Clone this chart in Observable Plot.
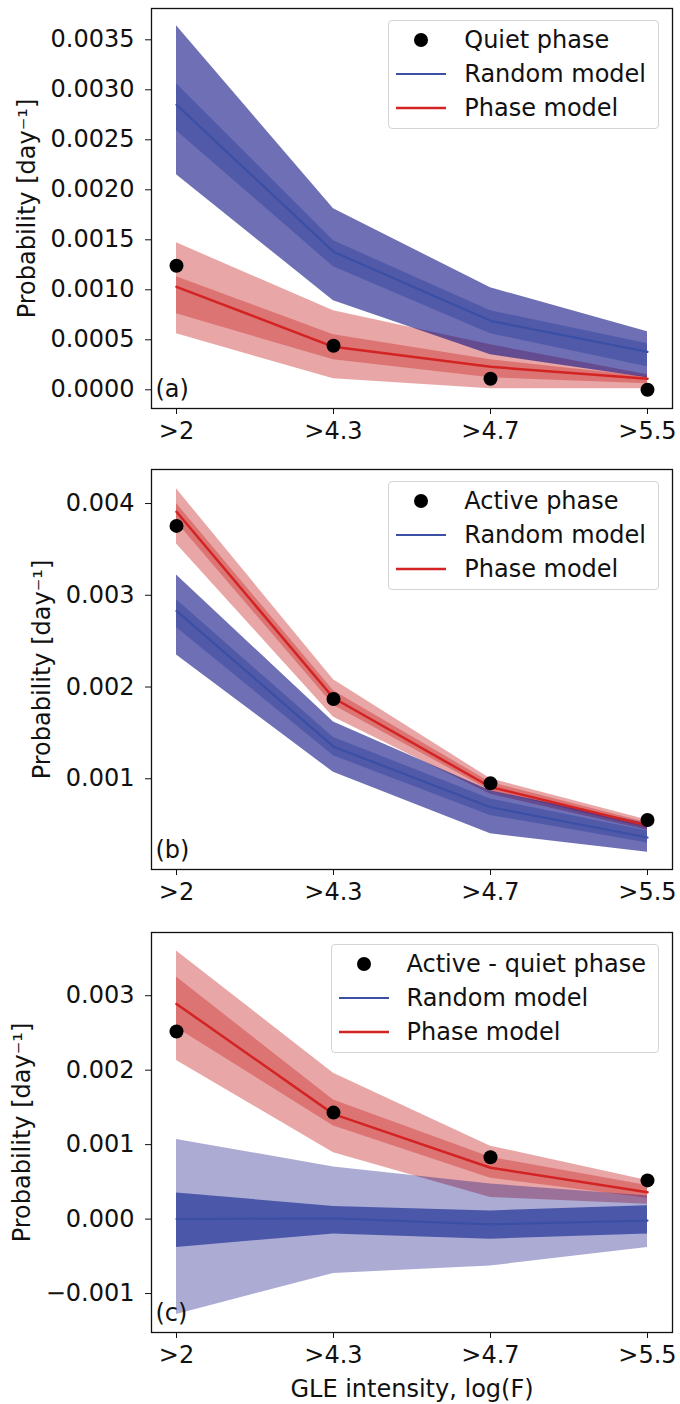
<!DOCTYPE html>
<html>
<head>
<meta charset="utf-8">
<script src="https://cdn.jsdelivr.net/npm/d3@7"></script>
<script src="https://cdn.jsdelivr.net/npm/@observablehq/plot@0.6"></script>
<style>
  body { margin: 0; background: #fff; }
  #figure { width: 680px; font-family: "DejaVu Sans", sans-serif; }
  .panel { position: relative; }
  .panel svg { display: block; }
  .legend {
    position: absolute;
    background: rgba(255, 255, 255, 0.85);
    border: 1px solid #d4d4d4;
    border-radius: 4px;
    padding: 2px 12px 3px 7px;
    font-size: 24px;
    color: #111;
  }
  .legend .row { display: flex; align-items: center; height: 34px; white-space: nowrap; }
  .legend .row svg { margin-right: 18px; flex: none; }
</style>
</head>
<body>
<div id="figure"></div>
<script>
// Three stacked panels: observed GLE probability per intensity threshold vs. the
// random model (blue) and the phase model (red), each with 68% and 95% bands.
const categories = [">2", ">4.3", ">4.7", ">5.5"];

// (a) quiet phase
const quietObserved = [0.00124, 0.00044, 0.00011, 0.0];
const quietRandomMed = [0.00285, 0.00138, 0.00069, 0.00038];
const quietRandomLo68 = [0.00259, 0.00123, 0.00056, 0.00023];
const quietRandomHi68 = [0.00306, 0.00149, 0.00079, 0.00046];
const quietRandomLo95 = [0.00215, 0.00089, 0.00035, 0.00012];
const quietRandomHi95 = [0.00364, 0.00181, 0.00102, 0.00058];
const quietPhaseMed = [0.00103, 0.00043, 0.00023, 0.00011];
const quietPhaseLo68 = [0.00076, 0.00030, 0.00012, 0.00006];
const quietPhaseHi68 = [0.00113, 0.00055, 0.00030, 0.00013];
const quietPhaseLo95 = [0.00056, 0.00011, 0.00001, 0.00001];
const quietPhaseHi95 = [0.00147, 0.00079, 0.00045, 0.00015];

// (b) active phase
const activeObserved = [0.003756, 0.00187, 0.00095, 0.00055];
const activeRandomMed = [0.00283, 0.00135, 0.00069, 0.00036];
const activeRandomLo68 = [0.00265, 0.00125, 0.00060, 0.00030];
const activeRandomHi68 = [0.00295, 0.00145, 0.00078, 0.00043];
const activeRandomLo95 = [0.00235, 0.00107, 0.00040, 0.00020];
const activeRandomHi95 = [0.00322, 0.00162, 0.00087, 0.00051];
const activePhaseMed = [0.00391, 0.00188, 0.00091, 0.00049];
const activePhaseLo68 = [0.00380, 0.00180, 0.00087, 0.00046];
const activePhaseHi68 = [0.00400, 0.00196, 0.00096, 0.00052];
const activePhaseLo95 = [0.00356, 0.00167, 0.00083, 0.00044];
const activePhaseHi95 = [0.00416, 0.00208, 0.00100, 0.00055];

// (c) active - quiet phase
const diffObserved = [0.00252, 0.00143, 0.00083, 0.00052];
const diffRandomMed = [0.0, 0.00001, -0.00007, -0.00002];
const diffRandomLo68 = [-0.00038, -0.00020, -0.00027, -0.00020];
const diffRandomHi68 = [0.00035, 0.00017, 0.00011, 0.00018];
const diffRandomLo95 = [-0.00128, -0.00073, -0.00063, -0.00038];
const diffRandomHi95 = [0.00107, 0.00070, 0.00047, 0.00031];
const diffPhaseMed = [0.00289, 0.00141, 0.00069, 0.00036];
const diffPhaseLo68 = [0.00257, 0.00125, 0.00055, 0.00028];
const diffPhaseHi68 = [0.00325, 0.00160, 0.00083, 0.00045];
const diffPhaseLo95 = [0.00213, 0.00089, 0.00029, 0.00020];
const diffPhaseHi95 = [0.00360, 0.00196, 0.00098, 0.00052];

const ticksA = [0, 0.0005, 0.001, 0.0015, 0.002, 0.0025, 0.003, 0.0035];
const ticksB = [0.001, 0.002, 0.003, 0.004];
const ticksC = [-0.001, 0, 0.001, 0.002, 0.003];

const BLUE = "#0d0f82";
const BLUE_INNER = "#3a48a0";
const BLUE_LINE = "#3b4fa5";
const RED = "#c00000";
const RED_LINE = "#d42323";
const FONT = 24;

function rows(obs, rMed, rLo68, rHi68, rLo95, rHi95, pMed, pLo68, pHi68, pLo95, pHi95) {
  return categories.map((cat, i) => ({
    cat, obs: obs[i],
    rMed: rMed[i], rLo68: rLo68[i], rHi68: rHi68[i], rLo95: rLo95[i], rHi95: rHi95[i],
    pMed: pMed[i], pLo68: pLo68[i], pHi68: pHi68[i], pLo95: pLo95[i], pHi95: pHi95[i]
  }));
}

const panels = [
  {
    tag: "(a)", legend: "Quiet phase",
    data: rows(quietObserved, quietRandomMed, quietRandomLo68, quietRandomHi68, quietRandomLo95, quietRandomHi95,
      quietPhaseMed, quietPhaseLo68, quietPhaseHi68, quietPhaseLo95, quietPhaseHi95),
    domain: [-0.000187, 0.003813], ticks: ticksA, format: ".4f",
    height: 455, marginTop: 8, marginBottom: 47, labelOffset: 134,
    blueOuter: 0.6, blueInner: 0.55, xLabel: null
  },
  {
    tag: "(b)", legend: "Active phase",
    data: rows(activeObserved, activeRandomMed, activeRandomLo68, activeRandomHi68, activeRandomLo95, activeRandomHi95,
      activePhaseMed, activePhaseLo68, activePhaseHi68, activePhaseLo95, activePhaseHi95),
    domain: [0.000011, 0.004371], ticks: ticksB, format: ".3f",
    height: 462, marginTop: 14, marginBottom: 48, labelOffset: 119,
    blueOuter: 0.6, blueInner: 0.55, xLabel: null
  },
  {
    tag: "(c)", legend: "Active - quiet phase",
    data: rows(diffObserved, diffRandomMed, diffRandomLo68, diffRandomHi68, diffRandomLo95, diffRandomHi95,
      diffPhaseMed, diffPhaseLo68, diffPhaseHi68, diffPhaseLo95, diffPhaseHi95),
    domain: [-0.001523, 0.003849], ticks: ticksC, format: ".3f",
    height: 487, marginTop: 15, marginBottom: 72, labelOffset: 139,
    blueOuter: 0.35, blueInner: 0.85, xLabel: "GLE intensity, log(F)"
  }
];

function legendBox(label) {
  const box = document.createElement("div");
  box.className = "legend";
  box.innerHTML = `
    <div class="row"><svg width="50" height="20"><circle cx="25" cy="10" r="7" fill="black"/></svg><span>${label}</span></div>
    <div class="row"><svg width="50" height="20"><line x1="0" x2="50" y1="10" y2="10" stroke="${BLUE_LINE}" stroke-width="2.2"/></svg><span>Random model</span></div>
    <div class="row"><svg width="50" height="20"><line x1="0" x2="50" y1="10" y2="10" stroke="${RED_LINE}" stroke-width="2.5"/></svg><span>Phase model</span></div>`;
  return box;
}

function renderPanel(p) {
  const marginLeft = 151, marginRight = 8;
  const fig = Plot.plot({
    width: 680,
    height: p.height,
    marginTop: p.marginTop,
    marginBottom: p.marginBottom,
    marginLeft,
    marginRight,
    style: { fontFamily: "DejaVu Sans", fontSize: `${FONT}px`, color: "#111", background: "white", overflow: "visible" },
    x: {
      type: "point", domain: categories, padding: 0.15,
      tickSize: 6, tickPadding: 7,
      label: p.xLabel, labelAnchor: "center", labelOffset: 64, labelArrow: "none"
    },
    y: {
      domain: p.domain, ticks: p.ticks, tickFormat: d3.format(p.format),
      tickSize: 6, tickPadding: 11,
      label: "Probability [day⁻¹]", labelAnchor: "center", labelOffset: p.labelOffset, labelArrow: "none"
    },
    marks: [
      // phase model bands
      Plot.areaY(p.data, { x: "cat", y1: "pLo95", y2: "pHi95", fill: RED, fillOpacity: 0.35 }),
      Plot.areaY(p.data, { x: "cat", y1: "pLo68", y2: "pHi68", fill: RED, fillOpacity: 0.3 }),
      // random model bands
      Plot.areaY(p.data, { x: "cat", y1: "rLo95", y2: "rHi95", fill: BLUE, fillOpacity: p.blueOuter }),
      Plot.areaY(p.data, { x: "cat", y1: "rLo68", y2: "rHi68", fill: BLUE_INNER, fillOpacity: p.blueInner }),
      Plot.lineY(p.data, { x: "cat", y: "rMed", stroke: BLUE_LINE, strokeWidth: 2.2 }),
      Plot.lineY(p.data, { x: "cat", y: "pMed", stroke: RED_LINE, strokeWidth: 2.5 }),
      Plot.dot(p.data, { x: "cat", y: "obs", r: 7, fill: "black" }),
      Plot.text([p.tag], { frameAnchor: "bottom-left", textAnchor: "start", lineAnchor: "bottom", dx: 4, dy: -12, fontSize: FONT, fill: "#111" }),
      Plot.frame({ stroke: "#111", strokeWidth: 1.3 })
    ]
  });

  const wrap = document.createElement("div");
  wrap.className = "panel";
  wrap.style.height = `${p.height}px`;
  wrap.appendChild(fig);
  const legend = legendBox(p.legend);
  legend.style.top = `${p.marginTop + 12}px`;
  legend.style.right = `${marginRight + 13}px`;
  wrap.appendChild(legend);
  return wrap;
}

const root = document.getElementById("figure");
for (const p of panels) root.appendChild(renderPanel(p));
</script>
</body>
</html>
